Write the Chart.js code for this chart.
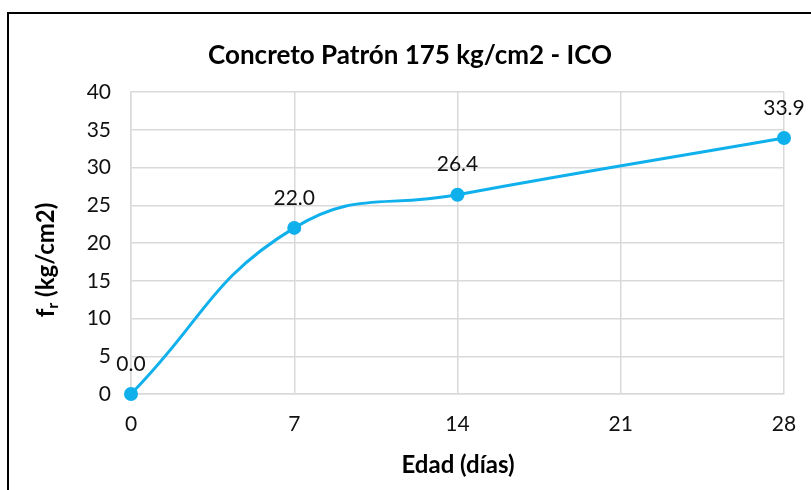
<!DOCTYPE html>
<html>
<head>
<meta charset="utf-8">
<script src="https://cdn.jsdelivr.net/npm/chart.js@4.4.1/dist/chart.umd.min.js"></script>
<style>
  html, body { margin: 0; padding: 0; background: #fff; }
  #wrap { width: 811px; height: 490px; position: relative; }
</style>
</head>
<body>
<div id="wrap"><canvas id="resistChart" width="811" height="490"></canvas></div>
<script>
// Data
const edades = [0, 7, 14, 28];            // días
const resistencia = [0.0, 22.0, 26.4, 33.9]; // kg/cm2
const xTicks = [0, 7, 14, 21, 28];
const yTicks = [0, 5, 10, 15, 20, 25, 30, 35, 40];

const chartTitle = 'Concreto Patrón 175 kg/cm2 - ICO';
const xTitle = 'Edad (días)';

const FONT = 'Lato, "Open Sans", sans-serif';
const LINE_COLOR = '#0fb0ec';

// frame, titles and value labels
const decor = {
    id: 'decor',
    beforeDraw(chart) {
        const ctx = chart.ctx;
        ctx.save();
        ctx.fillStyle = '#fff';
        ctx.fillRect(0, 0, chart.width, chart.height);
        ctx.strokeStyle = '#000';
        ctx.lineWidth = 2;
        ctx.beginPath();
        ctx.moveTo(8, chart.height);
        ctx.lineTo(8, 13);
        ctx.lineTo(chart.width, 13);
        ctx.stroke();
        ctx.restore();
    },
    afterDraw(chart) {
        const ctx = chart.ctx;
        ctx.save();
        ctx.fillStyle = '#000';
        ctx.textAlign = 'center';
        ctx.textBaseline = 'middle';

        // chart title
        ctx.font = 'bold 26px ' + FONT;
        ctx.fillText(chartTitle, 410, 56);

        // x title
        ctx.font = 'bold 24px ' + FONT;
        ctx.fillText(xTitle, 458, 465);

        // y title with subscript r
        ctx.translate(46, 260);
        ctx.rotate(-Math.PI / 2);
        const main = 'f';
        const sub = 'r';
        const rest = ' (kg/cm2)';
        ctx.font = 'bold 24px ' + FONT;
        const wMain = ctx.measureText(main).width;
        const wRest = ctx.measureText(rest).width;
        ctx.font = 'bold 16px ' + FONT;
        const wSub = ctx.measureText(sub).width;
        let x = -(wMain + wSub + wRest) / 2;
        ctx.textAlign = 'left';
        ctx.font = 'bold 24px ' + FONT;
        ctx.fillText(main, x, 0);
        x += wMain;
        ctx.font = 'bold 16px ' + FONT;
        ctx.fillText(sub, x, 7);
        x += wSub;
        ctx.font = 'bold 24px ' + FONT;
        ctx.fillText(rest, x, 0);
        ctx.restore();

        // value labels above points
        ctx.save();
        ctx.font = '21px ' + FONT;
        ctx.fillStyle = '#111';
        ctx.textAlign = 'center';
        ctx.textBaseline = 'middle';
        const meta = chart.getDatasetMeta(0);
        meta.data.forEach((pt, i) => {
            ctx.fillText(resistencia[i].toFixed(1), pt.x, pt.y - 30);
        });
        ctx.restore();
    }
};

const resistData = {
    datasets: [{
        label: 'Resistencia',
        data: edades.map((e, i) => ({ x: e, y: resistencia[i] })),
        borderColor: LINE_COLOR,
        backgroundColor: LINE_COLOR,
        borderWidth: 3,
        pointRadius: 5.5,
        pointBackgroundColor: LINE_COLOR,
        pointBorderColor: LINE_COLOR,
        tension: 0.45,
        clip: false,
        fill: false
    }]
};

const resistConfig = {
    type: 'line',
    data: resistData,
    options: {
        responsive: false,
        animation: false,
        layout: {
            padding: { top: 92, right: 27, left: 0, bottom: 0 }
        },
        plugins: {
            legend: { display: false },
            tooltip: { enabled: false }
        },
        scales: {
            x: {
                type: 'linear',
                min: 0,
                max: 28,
                afterBuildTicks: (scale) => {
                    scale.ticks = xTicks.map(v => ({ value: v }));
                },
                afterFit: (scale) => {
                    scale.height = 96;
                    scale.paddingLeft = 0;
                    scale.paddingRight = 0;
                },
                grid: { color: '#d9d9d9', lineWidth: 1.5, drawTicks: false },
                border: { color: '#d9d9d9', width: 1.5 },
                ticks: {
                    padding: 18,
                    color: '#111',
                    font: { family: FONT, size: 21 }
                }
            },
            y: {
                min: 0,
                max: 40,
                afterBuildTicks: (scale) => {
                    scale.ticks = yTicks.map(v => ({ value: v }));
                },
                afterFit: (scale) => {
                    scale.width = 131;
                    scale.paddingTop = 0;
                    scale.paddingBottom = 0;
                },
                grid: { color: '#d9d9d9', lineWidth: 1.5, drawTicks: false },
                border: { color: '#d9d9d9', width: 1.5 },
                ticks: {
                    padding: 20,
                    color: '#111',
                    font: { family: FONT, size: 21 }
                }
            }
        }
    },
    plugins: [decor]
};

const resistChart = new Chart(
    document.getElementById('resistChart'),
    resistConfig
);
</script>
</body>
</html>
